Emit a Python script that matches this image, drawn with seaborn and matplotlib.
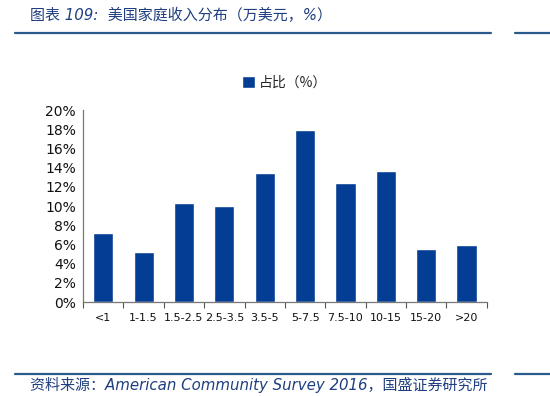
import matplotlib
matplotlib.use("Agg")
import matplotlib.pyplot as plt
import matplotlib.lines as mlines
from matplotlib.ticker import PercentFormatter
import pandas as pd
import seaborn as sns

# data
categories = ["<1", "1-1.5", "1.5-2.5", "2.5-3.5", "3.5-5", "5-7.5", "7.5-10", "10-15", "15-20", ">20"]
share = [7.2, 5.2, 10.3, 10.0, 13.4, 17.9, 12.4, 13.7, 5.5, 5.9]
series_name = "占比（%）"

title_text = "图表 109:  美国家庭收入分布（万美元，%）"
source_text = "资料来源：American Community Survey 2016，国盛证券研究所"

bar_color = "#033d94"
line_color = "#2a5a8c"
text_blue = "#1f3f80"

sns.set_theme(style="white")
plt.rcParams["font.family"] = ["DejaVu Sans", "Noto Sans CJK SC"]

df = pd.DataFrame({"区间": categories, "占比": share})

fig = plt.figure(figsize=(5.5, 3.96), dpi=100)
ax = fig.add_axes([0.151, 0.237, 0.734, 0.485])

sns.barplot(data=df, x="区间", y="占比", color=bar_color, width=0.5,
            saturation=1, ax=ax, label=series_name)

ax.set_ylim(0, 20)
ax.set_yticks(range(0, 21, 2))
ax.yaxis.set_major_formatter(PercentFormatter(decimals=0))
ax.set_xlim(-0.5, len(categories) - 0.5)
ax.set_xlabel("")
ax.set_ylabel("")

# x ticks at category boundaries, labels in the middle
ax.set_xticks([i + 0.5 for i in range(-1, len(categories))], minor=True)
ax.tick_params(axis="x", which="minor", length=4, color="#555555", width=0.8, direction="out", bottom=True)
ax.tick_params(axis="x", which="major", length=0, labelsize=8, pad=8)
ax.tick_params(axis="y", length=0, labelsize=10, pad=5)
for lab in ax.get_xticklabels() + ax.get_yticklabels():
    lab.set_color("#111111")

for side in ["top", "right"]:
    ax.spines[side].set_visible(False)
for side in ["left", "bottom"]:
    ax.spines[side].set_color("#777777")
    ax.spines[side].set_linewidth(0.9)

leg = ax.legend(loc="lower center", bbox_to_anchor=(0.5, 1.04), frameon=False,
                handlelength=0.9, handleheight=0.9, handletextpad=0.3,
                prop={"family": ["Noto Sans CJK SC"], "size": 10})

# header / footer
fig.text(0.055, 0.962, title_text, ha="left", va="center", fontsize=10.8,
         color=text_blue, style="italic", family=["DejaVu Sans", "Noto Sans CJK SC"])
fig.add_artist(mlines.Line2D([0.027, 0.893], [0.917, 0.917], color=line_color, lw=1.6))
fig.add_artist(mlines.Line2D([0.937, 1.0], [0.917, 0.917], color=line_color, lw=1.6))

fig.add_artist(mlines.Line2D([0.027, 0.893], [0.056, 0.056], color=line_color, lw=1.6))
fig.add_artist(mlines.Line2D([0.937, 1.0], [0.056, 0.056], color=line_color, lw=1.6))
fig.text(0.055, 0.028, source_text, ha="left", va="center", fontsize=10.8,
         color=text_blue, style="italic", family=["DejaVu Sans", "Noto Sans CJK SC"])

fig.savefig("out.png", dpi=100)
